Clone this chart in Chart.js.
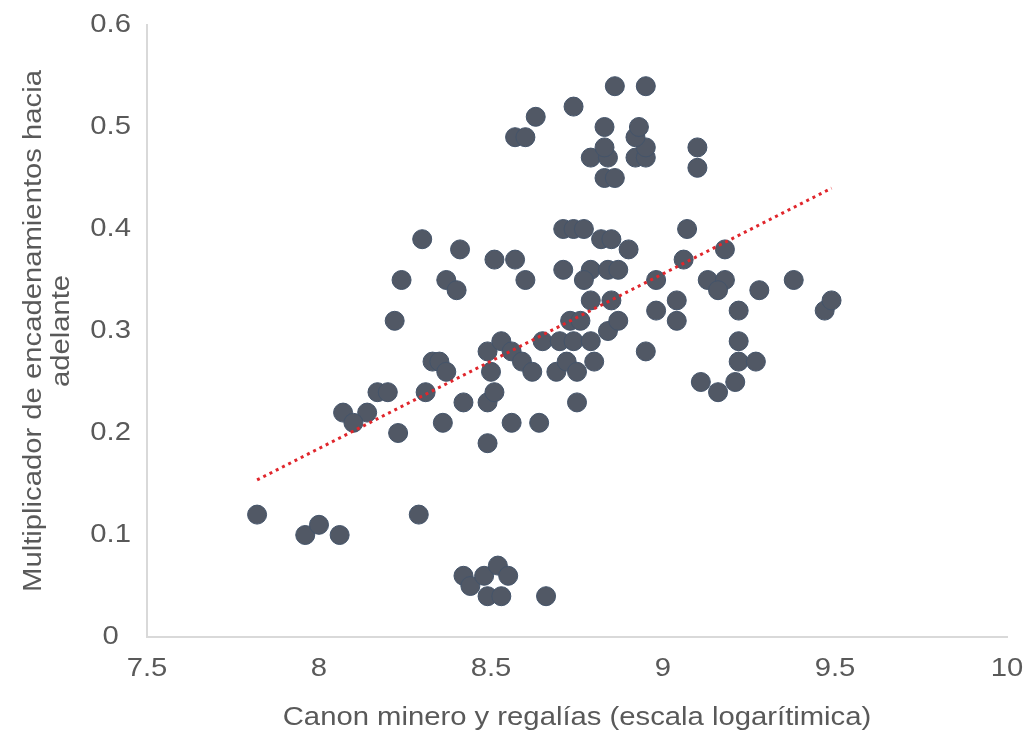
<!DOCTYPE html>
<html>
<head>
<meta charset="utf-8">
<script src="https://cdn.jsdelivr.net/npm/chart.js@4.4.1/dist/chart.umd.min.js"></script>
<style>
    html, body { margin: 0; padding: 0; background: #ffffff; }
    #myChart { display: block; }
</style>
</head>
<body>
<canvas id="myChart" width="1028" height="731"></canvas>
<script>
// canon minero (log) vs multiplicador hacia adelante
const canonLog = [
    7.82, 7.96, 8.00, 8.06, 8.29, 8.42, 8.44, 8.48, 8.52, 8.55,
    8.49, 8.53, 8.66, 8.07, 8.14, 8.10, 8.23, 8.36, 8.17, 8.20,
    8.31, 8.42, 8.22, 8.24, 8.30, 8.41, 8.37, 8.40, 8.33, 8.35,
    8.37, 8.49, 8.49, 8.51, 8.50, 8.49, 8.53, 8.56, 8.59, 8.62,
    8.56, 8.64, 8.51, 8.57, 8.60, 8.65, 8.69, 8.72, 8.75, 8.80,
    8.75, 8.70, 8.74, 8.79, 8.73, 8.76, 8.79, 8.85, 8.84, 8.87,
    8.71, 8.79, 8.84, 8.87, 8.77, 8.71, 8.74, 8.77, 8.82, 8.85,
    8.90, 8.83, 8.86, 8.79, 8.84, 8.92, 8.95, 8.83, 8.95, 8.92,
    8.83, 8.93, 8.57, 8.60, 8.63, 8.74, 8.86, 8.95, 8.98, 8.98,
    8.95, 9.04, 9.04, 9.06, 9.07, 9.10, 9.10, 9.18, 9.13, 9.18,
    9.16, 9.22, 9.28, 9.38, 9.47, 9.49, 9.22, 9.22, 9.27, 9.11,
    9.16, 9.21
];
const multiplicador = [
    0.12, 0.10, 0.11, 0.10, 0.12, 0.06, 0.05, 0.06, 0.07, 0.06,
    0.04, 0.04, 0.04, 0.22, 0.22, 0.21, 0.20, 0.21, 0.24, 0.24,
    0.24, 0.23, 0.31, 0.35, 0.39, 0.38, 0.35, 0.34, 0.27, 0.27,
    0.26, 0.19, 0.23, 0.24, 0.26, 0.28, 0.29, 0.28, 0.27, 0.26,
    0.21, 0.21, 0.37, 0.37, 0.35, 0.29, 0.26, 0.27, 0.26, 0.27,
    0.23, 0.29, 0.29, 0.29, 0.31, 0.31, 0.33, 0.33, 0.30, 0.31,
    0.36, 0.36, 0.36, 0.36, 0.35, 0.40, 0.40, 0.40, 0.39, 0.39,
    0.38, 0.45, 0.45, 0.47, 0.47, 0.47, 0.47, 0.48, 0.48, 0.49,
    0.50, 0.50, 0.49, 0.49, 0.51, 0.52, 0.54, 0.54, 0.35, 0.32,
    0.28, 0.33, 0.31, 0.37, 0.40, 0.48, 0.46, 0.38, 0.35, 0.35,
    0.34, 0.32, 0.34, 0.35, 0.32, 0.33, 0.29, 0.27, 0.27, 0.25,
    0.24, 0.25
];
// linea de tendencia (extremos)
const trendX = [7.82, 9.49];
const trendY = [0.154, 0.44];

const xTitle = "Canon minero y regalías (escala logarítimica)";
const yTitle = ["Multiplicador de encadenamientos hacia", "adelante"];

function toPoints(xs, ys) {
    var pts = [];
    for (var i = 0; i < xs.length; i++) {
        pts.push({ x: xs[i], y: ys[i] });
    }
    return pts;
}

function tickLabel(value) {
    return String(Number(value.toFixed(1)));
}

// el texto del original es mas ancho que Arial: se estira en su propia direccion
const textStretch = 1.17;
function stretchText(c) {
    const fill = c.fillText.bind(c);
    const measure = c.measureText.bind(c);
    c.fillText = function (text, x, y, maxWidth) {
        c.save();
        c.translate(x, y);
        c.scale(textStretch, 1);
        fill(text, 0, 0);
        c.restore();
    };
    c.measureText = function (text) {
        const m = measure(text);
        return {
            width: m.width * textStretch,
            actualBoundingBoxAscent: m.actualBoundingBoxAscent,
            actualBoundingBoxDescent: m.actualBoundingBoxDescent,
            actualBoundingBoxLeft: m.actualBoundingBoxLeft * textStretch,
            actualBoundingBoxRight: m.actualBoundingBoxRight * textStretch,
        };
    };
}

const whiteBackground = {
    id: "whiteBackground",
    beforeDraw(chart) {
        const c = chart.ctx;
        c.save();
        c.fillStyle = "#ffffff";
        c.fillRect(0, 0, chart.width, chart.height);
        c.restore();
    },
};

Chart.defaults.font.family = "'Liberation Sans', Arial, sans-serif";
Chart.defaults.color = "#595959";

const canvas = document.getElementById("myChart");
stretchText(canvas.getContext("2d"));

new Chart(canvas, {
    type: "scatter",
    data: {
        datasets: [
            {
                type: "line",
                data: toPoints(trendX, trendY),
                borderColor: "#e0262c",
                borderWidth: 3,
                borderDash: [3, 4],
                pointRadius: 0,
                fill: false,
                order: 0,
            },
            {
                data: toPoints(canonLog, multiplicador),
                backgroundColor: "#515865",
                borderColor: "#44546a",
                borderWidth: 1,
                pointRadius: 9.5,
                pointHoverRadius: 9.5,
                order: 1,
            },
        ],
    },
    options: {
        responsive: false,
        animation: false,
        devicePixelRatio: 1,
        layout: { padding: { top: 25, right: 21, left: 0, bottom: 0 } },
        plugins: {
            legend: { display: false },
            tooltip: { enabled: false },
        },
        scales: {
            x: {
                type: "linear",
                min: 7.5,
                max: 10,
                grid: { display: false, drawTicks: false },
                border: { display: true, color: "#d9d9d9", width: 2 },
                ticks: {
                    stepSize: 0.5,
                    padding: 17,
                    font: { size: 25 },
                    callback: tickLabel,
                },
                title: {
                    display: true,
                    text: xTitle,
                    font: { size: 25, lineHeight: 1 },
                    padding: { top: 0, bottom: 0 },
                },
                afterFit(scale) {
                    scale.height = 94;
                    scale.paddingLeft = 0;
                    scale.paddingRight = 0;
                },
            },
            y: {
                type: "linear",
                min: 0,
                max: 0.6,
                grid: { display: false, drawTicks: false },
                border: { display: true, color: "#d9d9d9", width: 2 },
                ticks: {
                    stepSize: 0.1,
                    padding: 16,
                    crossAlign: "center",
                    font: { size: 25 },
                    callback: tickLabel,
                },
                title: {
                    display: true,
                    text: yTitle,
                    font: { size: 25, lineHeight: 1.12 },
                    padding: { top: 20, bottom: 0 },
                },
                afterFit(scale) {
                    scale.width = 147;
                    scale.paddingTop = 0;
                    scale.paddingBottom = 0;
                },
            },
        },
    },
    plugins: [whiteBackground],
});
</script>
</body>
</html>
